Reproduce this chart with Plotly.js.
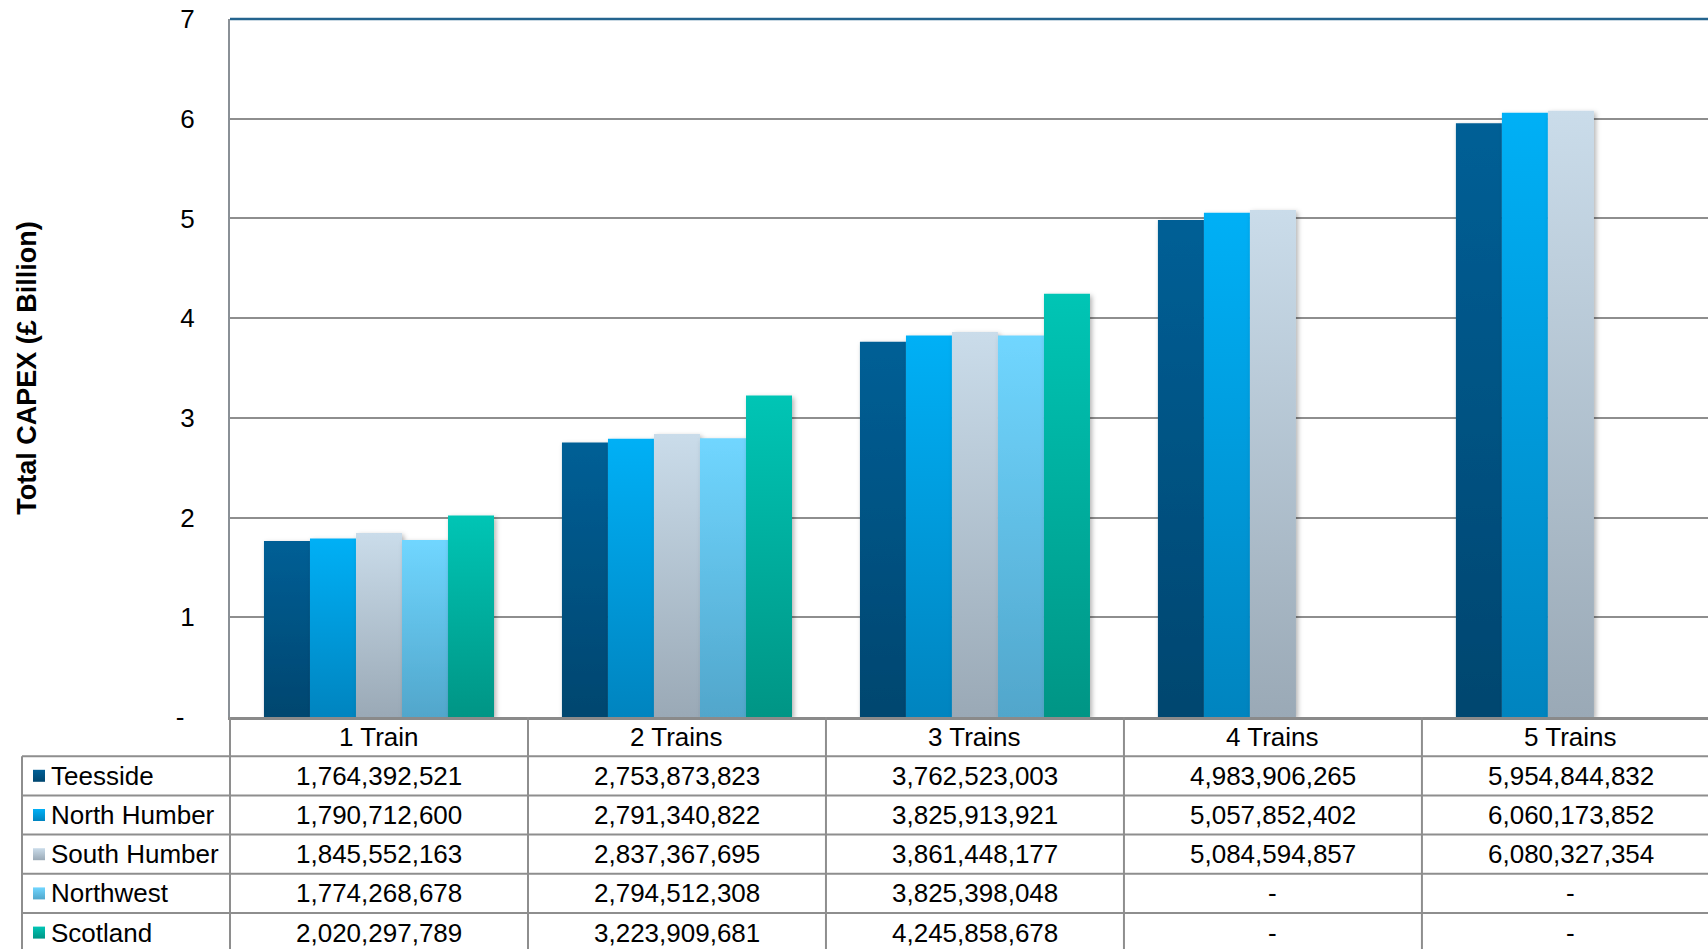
<!DOCTYPE html>
<html>
<head>
<meta charset="utf-8">
<script src="https://cdn.plot.ly/plotly-3.0.1.min.js"></script>
<style>
  html, body { margin: 0; padding: 0; background: #ffffff; }
  #chart { width: 1708px; height: 949px; }
</style>
</head>
<body>
<div id="chart"></div>
<script>
// Total CAPEX per site and number of trains (GBP)
const categories = ['1 Train', '2 Trains', '3 Trains', '4 Trains', '5 Trains'];
const seriesNames = ['Teesside', 'North Humber', 'South Humber', 'Northwest', 'Scotland'];
const teesside    = [1764392521, 2753873823, 3762523003, 4983906265, 5954844832];
const northHumber = [1790712600, 2791340822, 3825913921, 5057852402, 6060173852];
const southHumber = [1845552163, 2837367695, 3861448177, 5084594857, 6080327354];
const northwest   = [1774268678, 2794512308, 3825398048, null, null];
const scotland    = [2020297789, 3223909681, 4245858678, null, null];
const yTickVals = [0, 1, 2, 3, 4, 5, 6, 7];
const yTickText = ['-\u2009\u2009', '1', '2', '3', '4', '5', '6', '7'];

// Bar fills: each bar fades from a lighter top to a darker bottom
const topColors    = ['#005f96', '#00b0f6', '#cadcea', '#70d6ff', '#00c5b5'];
const bottomColors = ['#00466f', '#0084bf', '#9aa9b6', '#51a6cb', '#009585'];
const midColors    = ['#00527f', '#009ada', '#b2c2d0', '#60bee5', '#00ad9d'];

const allSeries = [teesside, northHumber, southHumber, northwest, scotland];

const FONT = 'Liberation Sans, Arial, Helvetica, sans-serif';
const W = 1708, H = 949;
const M = { l: 230, r: 0, t: 19, b: 232 };
const plotW = W - M.l - M.r;
const plotH = H - M.t - M.b;
const xRange = [-0.5, 4.46];
const pxToPaperX = v => (v - M.l) / plotW;
const pxToPaperY = v => (H - M.b - v) / plotH;
const catToPaperX = c => (c - xRange[0]) / (xRange[1] - xRange[0]);

// Data table geometry under the plot
const tableTop = H - M.b;
const rowH = 39.2;
const rowCenter = r => tableTop + rowH * (r + 0.5);
const gridGray = '#8e8e8e';

const traces = allSeries.map((vals, s) => ({
  type: 'bar',
  name: seriesNames[s],
  x: categories,
  y: vals.map(v => (v === null ? null : v / 1e9)),
  marker: { color: midColors[s], line: { width: 0 } },
  showlegend: false,
  hoverinfo: 'skip'
}));

const shapes = [];
const annotations = [];

// top border of the plot area
shapes.push({
  type: 'line', xref: 'paper', yref: 'paper', x0: 0, x1: 1, y0: 1, y1: 1,
  line: { color: '#24648e', width: 2.5 }, layer: 'above'
});

// table horizontal rules
for (let k = 1; k <= 5; k++) {
  const y = pxToPaperY(tableTop + k * rowH);
  shapes.push({
    type: 'line', xref: 'paper', yref: 'paper', x0: pxToPaperX(22), x1: 1, y0: y, y1: y,
    line: { color: gridGray, width: 2 }
  });
}
// table vertical rules at category boundaries
for (let i = 0; i < categories.length; i++) {
  const x = catToPaperX(i - 0.5);
  shapes.push({
    type: 'line', xref: 'paper', yref: 'paper', x0: x, x1: x, y0: 0, y1: pxToPaperY(H + 5),
    line: { color: gridGray, width: 2 }
  });
}
// left edge of the series-name column
shapes.push({
  type: 'line', xref: 'paper', yref: 'paper', x0: pxToPaperX(22), x1: pxToPaperX(22),
  y0: pxToPaperY(tableTop + rowH), y1: pxToPaperY(H + 5),
  line: { color: gridGray, width: 2 }
});

// key squares in the series-name column
const keyShapeIndex = [];
seriesNames.forEach((name, s) => {
  const cy = rowCenter(s + 1);
  keyShapeIndex.push(shapes.length);
  shapes.push({
    type: 'rect', xref: 'paper', yref: 'paper',
    x0: pxToPaperX(33), x1: pxToPaperX(45), y0: pxToPaperY(cy + 6), y1: pxToPaperY(cy - 6),
    fillcolor: midColors[s], line: { width: 0 }
  });
  annotations.push({
    xref: 'paper', yref: 'paper', x: pxToPaperX(49), y: pxToPaperY(cy),
    xanchor: 'left', yanchor: 'middle', showarrow: false,
    text: name, font: { family: FONT, size: 26, color: '#000000' }
  });
});

// header row: category names
categories.forEach((c, i) => {
  annotations.push({
    xref: 'x', yref: 'paper', x: i, y: pxToPaperY(rowCenter(0)),
    xanchor: 'center', yanchor: 'middle', showarrow: false,
    text: c, font: { family: FONT, size: 26, color: '#000000' }
  });
});

// value cells
allSeries.forEach((vals, s) => {
  vals.forEach((v, i) => {
    annotations.push({
      xref: 'x', yref: 'paper', x: i, y: pxToPaperY(rowCenter(s + 1)),
      xanchor: 'center', yanchor: 'middle', showarrow: false,
      text: v === null ? '-' : v.toLocaleString('en-US'),
      font: { family: FONT, size: 26, color: '#000000' }
    });
  });
});

const layout = {
  width: W, height: H,
  margin: M,
  paper_bgcolor: '#ffffff',
  plot_bgcolor: '#ffffff',
  barmode: 'group',
  bargap: 0.228,
  bargroupgap: 0,
  font: { family: FONT, size: 26, color: '#000000' },
  xaxis: {
    type: 'category',
    range: xRange,
    showticklabels: false,
    showgrid: false,
    zeroline: false,
    showline: true,
    linecolor: '#8a8a8a',
    linewidth: 3,
    ticks: '',
    fixedrange: true
  },
  yaxis: {
    range: [0, 7],
    tickmode: 'array',
    tickvals: yTickVals,
    ticktext: yTickText,
    tickfont: { family: FONT, size: 26, color: '#000000' },
    ticks: '',
    ticklabelstandoff: 28,
    showgrid: true,
    gridcolor: gridGray,
    gridwidth: 2,
    zeroline: false,
    showline: true,
    linecolor: '#8a9096',
    linewidth: 2,
    fixedrange: true,
    title: {
      text: 'Total CAPEX (£ Billion)',
      font: { family: FONT, size: 27, color: '#000000', weight: 'bold' },
      standoff: 131
    }
  },
  shapes: shapes,
  annotations: annotations
};

const gd = document.getElementById('chart');
Plotly.newPlot(gd, traces, layout, { staticPlot: true, displayModeBar: false }).then(() => {
  const NS = 'http://www.w3.org/2000/svg';
  const svg = gd.querySelector('.main-svg');
  let defs = svg.querySelector('defs');
  if (!defs) { defs = document.createElementNS(NS, 'defs'); svg.insertBefore(defs, svg.firstChild); }

  topColors.forEach((top, s) => {
    const g = document.createElementNS(NS, 'linearGradient');
    g.setAttribute('id', 'capexFill' + s);
    g.setAttribute('x1', '0'); g.setAttribute('y1', '0');
    g.setAttribute('x2', '0'); g.setAttribute('y2', '1');
    [[0, top], [1, bottomColors[s]]].forEach(([off, col]) => {
      const st = document.createElementNS(NS, 'stop');
      st.setAttribute('offset', off);
      st.setAttribute('stop-color', col);
      g.appendChild(st);
    });
    defs.appendChild(g);
  });

  const f = document.createElementNS(NS, 'filter');
  f.setAttribute('id', 'capexShadow');
  f.setAttribute('x', '-20%'); f.setAttribute('y', '-10%');
  f.setAttribute('width', '150%'); f.setAttribute('height', '130%');
  const ds = document.createElementNS(NS, 'feDropShadow');
  ds.setAttribute('dx', '2'); ds.setAttribute('dy', '2');
  ds.setAttribute('stdDeviation', '2.5');
  ds.setAttribute('flood-color', '#000000');
  ds.setAttribute('flood-opacity', '0.3');
  f.appendChild(ds);
  defs.appendChild(f);

  gd.querySelectorAll('.barlayer .trace').forEach((tr, s) => {
    tr.querySelectorAll('.point path').forEach(p => {
      p.style.fill = 'url(#capexFill' + s + ')';
      p.setAttribute('filter', 'url(#capexShadow)');
    });
  });

  keyShapeIndex.forEach((idx, s) => {
    const p = gd.querySelector('.shapelayer path[data-index="' + idx + '"]');
    if (p) p.style.fill = 'url(#capexFill' + s + ')';
  });
});
</script>
</body>
</html>
